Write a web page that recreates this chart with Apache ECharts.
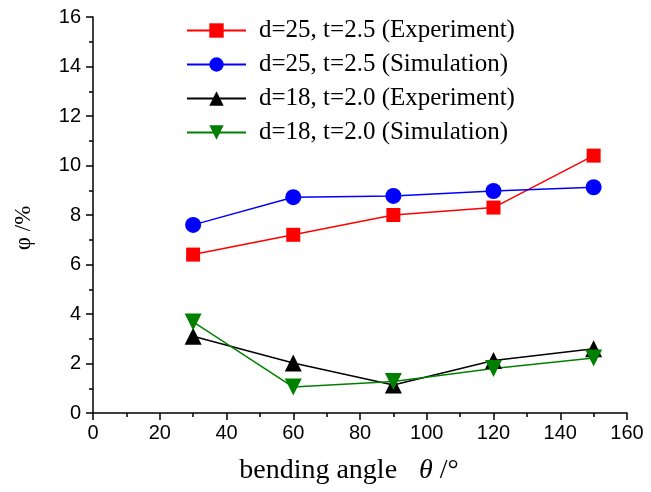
<!DOCTYPE html>
<html>
<head>
    <meta charset="UTF-8">
    <title>bending angle chart</title>
    <script src="https://cdn.jsdelivr.net/npm/echarts@6/dist/echarts.min.js"></script>
</head>
<style>
    html, body { margin: 0; padding: 0; background: #fff; }
    #chart { width: 651px; height: 492px; }
</style>
<body>
<div id="chart"></div>
<script>
// data
const angles = [30, 60, 90, 120, 150];
const d25Exp = [6.4, 7.2, 8.0, 8.3, 10.4];
const d25Sim = [7.6, 8.72, 8.77, 8.97, 9.12];
const d18Exp = [3.1, 2.02, 1.13, 2.12, 2.6];
const d18Sim = [3.68, 1.05, 1.27, 1.8, 2.22];
const names = [
    'd=25, t=2.5 (Experiment)',
    'd=25, t=2.5 (Simulation)',
    'd=18, t=2.0 (Experiment)',
    'd=18, t=2.0 (Simulation)'
];

function pairs(ys) {
    return angles.map((x, i) => [x, ys[i]]);
}

const chart = echarts.init(document.getElementById('chart'));

function makeSeries(name, ys, color, symbol, size, rotate) {
    return {
        name: name,
        type: 'line',
        data: pairs(ys),
        symbol: symbol,
        symbolSize: size,
        symbolRotate: rotate || 0,
        showAllSymbol: true,
        lineStyle: { color: color, width: 1.5 },
        itemStyle: { color: color },
        emphasis: { disabled: true },
        z: 2
    };
}

const axisCommon = {
    axisLine: { show: true, lineStyle: { color: '#000', width: 1.5 } },
    axisTick: { show: true, inside: false, length: 7, lineStyle: { color: '#000', width: 1.5 } },
    minorTick: { show: true, splitNumber: 2, length: 4, lineStyle: { color: '#000', width: 1.5 } },
    splitLine: { show: false }
};

const option = {
    animation: false,
    grid: { left: 93, right: 24, top: 17, bottom: 79 },
    legend: {
        orient: 'vertical',
        left: 181,
        top: 13,
        itemWidth: 59,
        itemHeight: 18,
        itemGap: 9,
        textStyle: { color: '#000', fontFamily: 'Liberation Serif', fontSize: 25, padding: [0, 0, 0, 8] },
        data: names
    },
    xAxis: Object.assign({
        type: 'value',
        min: 0,
        max: 160,
        interval: 20,
        name: '{n|bending angle}{s|}{t|θ}{n| /°}',
        nameLocation: 'middle',
        nameGap: 44,
        nameTextStyle: {
            padding: [0, 22, 0, 0],
            rich: {
                n: { fontFamily: 'Liberation Serif', fontSize: 28, color: '#000' },
                s: { width: 22 },
                t: { fontFamily: 'Liberation Serif', fontSize: 28, fontStyle: 'italic', color: '#000' }
            }
        }
    }, axisCommon, {
        axisLabel: { color: '#000', fontFamily: 'Liberation Sans', fontSize: 20, margin: 10 }
    }),
    yAxis: Object.assign({
        type: 'value',
        min: 0,
        max: 16,
        interval: 2,
        name: 'φ /%',
        nameLocation: 'middle',
        nameGap: 58,
        nameTextStyle: { color: '#000', fontFamily: 'Liberation Serif', fontSize: 23, padding: [0, 26, 0, 0] }
    }, axisCommon, {
        axisLabel: { color: '#000', fontFamily: 'Liberation Sans', fontSize: 20, margin: 12 }
    }),
    series: [
        makeSeries(names[0], d25Exp, '#ff0000', 'rect', 14),
        makeSeries(names[1], d25Sim, '#0000ff', 'circle', 16),
        makeSeries(names[2], d18Exp, '#000000', 'triangle', 17),
        makeSeries(names[3], d18Sim, '#008000', 'triangle', 17, 180)
    ]
};

chart.setOption(option);
</script>
</body>
</html>
